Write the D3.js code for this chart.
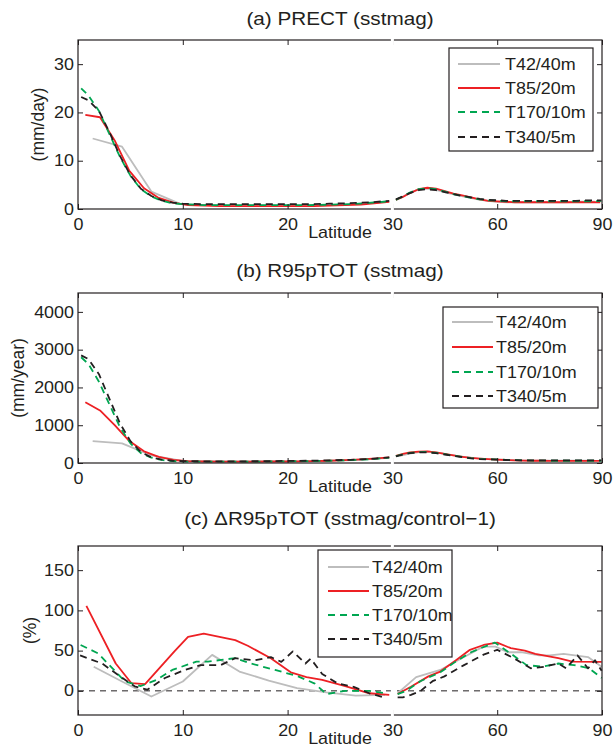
<!DOCTYPE html>
<html><head><meta charset="utf-8">
<script src="https://cdn.jsdelivr.net/npm/d3@7"></script>
<style>
body{margin:0;background:#fff}
svg{display:block}
text{font-family:"Liberation Sans",Arial,Helvetica,sans-serif;fill:#231f20}
</style>
</head><body>
<svg id="chart" width="614" height="751"></svg>
<script>
// ---------------- data ----------------
const xTicks = [0, 10, 20, 30, 60, 90];
const seriesNames = ["T42/40m", "T85/20m", "T170/10m", "T340/5m"];
const titles = ["(a) PRECT (sstmag)", "(b) R95pTOT (sstmag)", "(c) \u0394R95pTOT (sstmag/control\u22121)"];
const yLabels = ["(mm/day)", "(mm/year)", "(%)"];
const yTicksA = [0, 10, 20, 30];
const yTicksB = [0, 1000, 2000, 3000, 4000];
const yTicksC = [0, 50, 100, 150];

const latT42 = [1.4, 4.2, 7.0, 9.8, 12.6, 15.3, 18.1, 20.9, 23.7, 26.5, 29.3, 32.1, 34.9, 37.7, 40.5, 43.3, 46.0, 48.8, 51.6, 54.4, 57.2, 60.0, 62.8, 65.6, 68.4, 71.2, 74.0, 76.7, 79.5, 82.3, 85.1, 87.9];
const latT85 = [0.7, 2.1, 3.5, 4.9, 6.3, 7.7, 9.1, 10.5, 12.0, 13.5, 15.0, 16.5, 18.0, 19.5, 21.0, 22.5, 24.0, 25.5, 27.0, 28.5, 29.7, 31.0, 33.0, 35.0, 37.5, 40.0, 42.5, 45.0, 47.5, 50.0, 52.5, 55.0, 57.5, 60.0, 62.5, 65.0, 67.5, 70.0, 72.5, 75.0, 77.5, 80.0, 82.5, 85.0, 87.5, 89.5];
const latHi = [0.3, 1.0, 2.0, 3.0, 4.0, 5.0, 6.0, 7.0, 8.0, 9.0, 10.0, 12.0, 14.0, 16.0, 18.0, 20.0, 22.0, 24.0, 26.0, 28.0, 29.7, 31.0, 33.0, 35.0, 37.5, 40.0, 42.5, 45.0, 47.5, 50.0, 52.5, 55.0, 57.5, 60.0, 62.5, 65.0, 67.5, 70.0, 72.5, 75.0, 77.5, 80.0, 82.5, 85.0, 87.5, 89.8];

// (a) PRECT
const precT42 = [14.6, 12.9, 3.6, 1.0, 0.8, 0.7, 0.7, 0.7, 0.8, 1.0, 1.5, 2.2, 3.3, 4.1, 4.2, 3.8, 3.3, 2.8, 2.4, 2.0, 1.7, 1.5, 1.4, 1.4, 1.4, 1.4, 1.4, 1.4, 1.4, 1.5, 1.5, 1.5];
const precT85 = [19.5, 19.0, 14.2, 7.9, 4.3, 2.3, 1.3, 0.8, 0.7, 0.6, 0.6, 0.6, 0.6, 0.6, 0.6, 0.6, 0.7, 0.8, 0.9, 1.2, 1.5, 1.9, 2.5, 3.3, 4.1, 4.4, 4.2, 3.7, 3.2, 2.8, 2.4, 2.0, 1.7, 1.6, 1.5, 1.4, 1.4, 1.4, 1.4, 1.4, 1.4, 1.4, 1.4, 1.4, 1.4, 1.4];
const precT170 = [25.0, 23.5, 20.3, 15.5, 10.8, 6.9, 4.1, 2.6, 1.7, 1.2, 1.0, 0.8, 0.8, 0.8, 0.8, 0.8, 0.8, 0.9, 1.0, 1.3, 1.6, 1.9, 2.6, 3.4, 4.1, 4.3, 4.1, 3.6, 3.1, 2.7, 2.3, 2.0, 1.8, 1.7, 1.6, 1.6, 1.6, 1.6, 1.6, 1.6, 1.6, 1.6, 1.6, 1.6, 1.6, 1.7];
const precT340 = [23.2, 22.5, 20.3, 15.9, 11.0, 7.0, 4.2, 2.7, 1.8, 1.3, 1.1, 1.0, 1.0, 1.0, 1.0, 1.0, 1.0, 1.1, 1.2, 1.4, 1.7, 2.0, 2.6, 3.3, 3.9, 4.1, 3.9, 3.5, 3.1, 2.7, 2.4, 2.1, 1.9, 1.8, 1.7, 1.7, 1.7, 1.7, 1.7, 1.7, 1.7, 1.7, 1.7, 1.8, 1.8, 1.8];

// (b) R95pTOT
const r95T42 = [580, 520, 200, 60, 45, 40, 40, 45, 55, 80, 130, 190, 250, 290, 300, 270, 220, 180, 150, 120, 100, 90, 80, 70, 65, 60, 60, 60, 60, 60, 60, 60];
const r95T85 = [1610, 1390, 1000, 580, 310, 160, 80, 50, 40, 35, 35, 35, 40, 40, 45, 50, 60, 75, 95, 120, 150, 190, 240, 280, 300, 305, 280, 240, 200, 165, 135, 115, 100, 90, 80, 70, 65, 60, 60, 55, 55, 55, 55, 55, 55, 55];
const r95T170 = [2800, 2620, 2150, 1550, 950, 520, 260, 140, 80, 50, 40, 35, 35, 35, 40, 45, 50, 60, 75, 100, 140, 180, 230, 270, 290, 295, 270, 235, 195, 160, 130, 110, 100, 95, 85, 75, 70, 65, 65, 60, 60, 60, 60, 60, 60, 60];
const r95T340 = [2850, 2750, 2350, 1700, 1050, 580, 290, 150, 90, 60, 50, 45, 45, 45, 50, 55, 60, 70, 85, 110, 150, 175, 220, 260, 280, 280, 260, 225, 190, 155, 125, 105, 95, 90, 80, 75, 70, 70, 70, 70, 70, 70, 70, 70, 70, 70];

// (c) change in R95pTOT (%)
const cLatT42 = [1.5, 4.2, 7.0, 10.0, 12.8, 15.4, 18.2, 20.9, 23.7, 26.5, 29.3, 31.5, 36.8, 43.7, 50.5, 56.0, 59.5, 63.0, 66.8, 72.0, 75.0, 79.0, 86.0, 89.9];
const dT42 = [30, 11.6, -7, 11.6, 44.7, 24, 12.8, 3.3, -2, -6, -5, -3, 17, 26, 42, 55, 55, 48, 48, 44, 44, 46, 42, 30];
const cLatT85 = [0.8, 3.6, 5.1, 6.4, 9.2, 10.5, 12.0, 15.0, 16.2, 18.4, 20.3, 21.8, 23.3, 25.5, 27.8, 29.7, 31.5, 35.3, 40.3, 43.7, 48.2, 52.2, 56.1, 60.0, 63.9, 67.9, 70.9, 77.5, 81.5, 89.9];
const dT85 = [105.6, 34, 9.5, 8.3, 49, 67, 71, 63, 56, 40.6, 23, 17, 13.7, 6, -3, -5, -4, 5, 18, 24, 38, 51, 57, 60, 53, 50, 46, 40.6, 36.4, 36];
const cLatT170 = [0.25, 1.9, 4.5, 6.0, 7.5, 9.0, 11.3, 12.4, 15.0, 16.5, 18.8, 21.0, 22.6, 23.7, 25.5, 27.8, 29.4, 31.5, 34.0, 38.0, 43.7, 48.0, 52.5, 59.3, 64.0, 68.4, 73.0, 77.5, 82.0, 86.3, 89.9];
const dT170 = [57, 46.7, 11.6, 6, 13.7, 26, 36.4, 36.4, 40.6, 34, 26, 18, 9, -4, 0, 0, -3, -4, 0, 12, 23, 36, 48, 60, 46, 32, 30, 34, 32, 28, 16];
const cLatT340 = [0.2, 2.3, 3.8, 5.4, 6.6, 8.3, 10.2, 11.7, 13.6, 15.0, 16.9, 18.4, 19.4, 20.5, 21.7, 22.2, 23.3, 24.8, 26.3, 27.8, 29.4, 31.5, 33.0, 35.3, 38.1, 41.5, 44.9, 50.5, 56.1, 60.0, 65.0, 69.6, 73.5, 77.5, 79.7, 83.0, 86.0, 88.0, 89.9];
const dT340 = [44, 34, 20, 5.6, 1.4, 16, 26, 32, 32, 40.6, 38, 42, 36, 49, 34, 40, 21, 9, 5, -3, -9, -8, -8, -5, 0, 12, 18, 32, 45, 51, 40, 28, 30, 34, 28, 44, 28, 38, 25];

// ---------------- styles / layout ----------------
const colors = ["#bdbdbd", "#ed2024", "#00a651", "#231f20"];
const dashes = [null, null, "7,5", "7,5"];
const SX = 1.12;           // horizontal text stretch of the original figure
const FS = 16;             // base font size
const X0 = 78, X1 = 602;

const panels = [
  {top: 40, bottom: 209, ydom: [0, 35], yt: yTicksA, lats: [latT42, latT85, latHi, latHi],
   vals: [precT42, precT85, precT170, precT340], titleY: 25, ylabX: 38,
   lg: {x0: 449, x1: 593, y0: 48, y1: 151, lx0: 458, lx1: 500, tx: 505, rows: [64, 88, 112, 137]}},
  {top: 293, bottom: 463, ydom: [0, 4500], yt: yTicksB, lats: [latT42, latT85, latHi, latHi],
   vals: [r95T42, r95T85, r95T170, r95T340], titleY: 277, ylabX: 18,
   lg: {x0: 443, x1: 598, y0: 307, y1: 408, lx0: 452, lx1: 493, tx: 496, rows: [322, 347, 372, 396]}},
  {top: 546, bottom: 715, ydom: [-30, 180], yt: yTicksC, lats: [cLatT42, cLatT85, cLatT170, cLatT340],
   vals: [dT42, dT85, dT170, dT340], titleY: 525, ylabX: 30, zero: true,
   lg: {x0: 318, x1: 452, y0: 550, y1: 657, lx0: 328, lx1: 369, tx: 372, rows: [567, 591, 615, 639]}}
];

const svg = d3.select("#chart");
const x = d3.scaleLinear().domain([0, 30, 90]).range([X0, X0 + (X1 - X0) * 0.6, X1]);

function label(g, tx, ty, str, anchor, size, rot) {
  return g.append("text")
    .attr("transform", rot ? `translate(${tx},${ty}) rotate(-90)` : `translate(${tx},${ty}) scale(${SX},1)`)
    .attr("text-anchor", anchor)
    .style("font-size", size + "px")
    .text(str);
}

panels.forEach((p, i) => {
  const g = svg.append("g");
  const y = d3.scaleLinear().domain(p.ydom).range([p.bottom, p.top]);

  // zero line
  if (p.zero) {
    g.append("line").attr("x1", X0).attr("x2", X1).attr("y1", y(0)).attr("y2", y(0))
      .attr("stroke", "#231f20").attr("stroke-width", 1).attr("stroke-dasharray", "6,5");
  }

  // data: drawn as two pieces split at 30 degrees (axis break)
  const line = d3.line().x(d => x(d[0])).y(d => y(d[1]));
  p.vals.forEach((vs, k) => {
    const pts = p.lats[k].map((la, j) => [la, vs[j]]);
    [pts.filter(d => d[0] < 30), pts.filter(d => d[0] > 30)].forEach(seg => {
      g.append("path").attr("d", line(seg)).attr("fill", "none")
        .attr("stroke", colors[k]).attr("stroke-width", 1.8)
        .attr("stroke-linejoin", "round")
        .attr("stroke-dasharray", dashes[k]);
    });
  });

  // axes (ticks inward on all four sides)
  const ax = (a) => a.tickSizeOuter(0);
  const gb = g.append("g").attr("transform", `translate(0,${p.bottom})`)
    .call(ax(d3.axisBottom(x).tickValues(xTicks).tickSize(-5).tickPadding(9.6).tickFormat(d3.format("d"))));
  const gt = g.append("g").attr("transform", `translate(0,${p.top})`)
    .call(ax(d3.axisTop(x).tickValues(xTicks).tickSize(-5).tickFormat("")));
  const gl = g.append("g").attr("transform", `translate(${X0},0)`)
    .call(ax(d3.axisLeft(y).tickValues(p.yt).tickSize(-5).tickPadding(3.6).tickFormat(d3.format("d"))));
  const gr = g.append("g").attr("transform", `translate(${X1},0)`)
    .call(ax(d3.axisRight(y).tickValues(p.yt).tickSize(-5).tickFormat("")));
  [gb, gt, gl, gr].forEach(a => {
    a.select(".domain").remove();
    a.selectAll(".tick line").attr("stroke", "#231f20").attr("stroke-width", 1);
    a.selectAll("text").style("font-size", FS + "px")
      .style("font-family", '"Liberation Sans",Arial,Helvetica,sans-serif').attr("fill", "#231f20");
  });
  gb.selectAll(".tick text").attr("transform", `scale(${SX},1)`);
  gl.selectAll(".tick text").attr("transform", `scale(${SX},1)`);

  // frame
  g.append("rect").attr("x", X0).attr("y", p.top).attr("width", X1 - X0).attr("height", p.bottom - p.top)
    .attr("fill", "none").attr("stroke", "#231f20").attr("stroke-width", 1.2);
  // axis break at 30
  g.append("rect").attr("x", x(30) - 1.5).attr("y", p.top - 2).attr("width", 3).attr("height", p.bottom - p.top + 4)
    .attr("fill", "#fff");

  // titles and labels
  label(g, (X0 + X1) / 2, p.titleY, titles[i], "middle", 18.5);
  label(g, (X0 + X1) / 2, p.bottom + 29, "Latitude", "middle", FS);
  label(g, p.ylabX, (p.top + p.bottom) / 2, yLabels[i], "middle", 17.5, true)
    .attr("dy", "0.35em");

  // legend
  const L = p.lg;
  g.append("rect").attr("x", L.x0).attr("y", L.y0).attr("width", L.x1 - L.x0).attr("height", L.y1 - L.y0)
    .attr("fill", "#fff").attr("stroke", "#231f20").attr("stroke-width", 1.2);
  seriesNames.forEach((nm, k) => {
    const ry = L.rows[k];
    g.append("line").attr("x1", L.lx0).attr("x2", L.lx1).attr("y1", ry).attr("y2", ry)
      .attr("stroke", colors[k]).attr("stroke-width", 1.8).attr("stroke-dasharray", dashes[k]);
    label(g, L.tx, ry + 5.8, nm, "start", FS);
  });
});
</script>
</body></html>
